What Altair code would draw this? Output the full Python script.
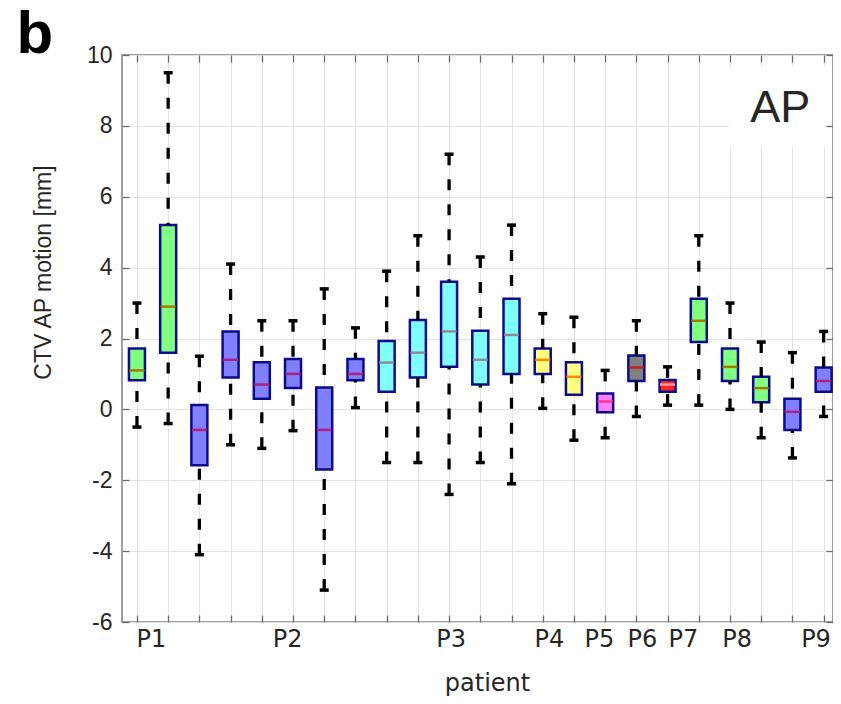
import altair as alt
import pandas as pd

# ---------------- data ----------------
positions = list(range(1, 24))
groups = ["G", "G", "B", "B", "B", "B", "B", "B", "C", "C", "C", "C", "C",
          "Y", "Y", "M", "K", "R", "G", "G", "G", "B", "B"]
whisker_low = [-0.5, -0.4, -4.1, -1.0, -1.1, -0.6, -5.1, 0.05, -1.5, -1.5, -2.4, -1.5,
               -2.1, 0.03, -0.87, -0.8, -0.2, 0.12, 0.12, 0.0, -0.8, -1.37, -0.2]
q1 = [0.82, 1.6, -1.58, 0.9, 0.3, 0.6, -1.7, 0.82, 0.5, 0.9, 1.2, 0.7,
      1.0, 1.0, 0.41, -0.08, 0.8, 0.5, 1.9, 0.8, 0.2, -0.58, 0.5]
median = [1.1, 2.9, -0.58, 1.4, 0.7, 1.0, -0.58, 1.0, 1.32, 1.6, 2.2, 1.4,
          2.1, 1.4, 0.92, 0.22, 1.18, 0.7, 2.5, 1.2, 0.6, -0.07, 0.8]
q3 = [1.72, 5.2, 0.12, 2.2, 1.33, 1.42, 0.62, 1.42, 1.93, 2.52, 3.6, 2.22,
      3.12, 1.72, 1.33, 0.45, 1.52, 0.83, 3.12, 1.72, 0.92, 0.3, 1.18]
whisker_high = [3.0, 9.5, 1.5, 4.1, 2.5, 2.5, 3.4, 2.3, 3.9, 4.9, 7.2, 4.3,
                5.2, 2.7, 2.6, 1.1, 2.5, 1.2, 4.9, 3.0, 1.9, 1.6, 2.2]

patient_labels = ["P1", "P2", "P3", "P4", "P5", "P6", "P7", "P8", "P9"]
patient_label_values = [1.45, 5.81, 11.05, 14.2, 15.8, 17.18, 18.49, 20.21, 22.74]
y_ticks = [-6, -4, -2, 0, 2, 4, 6, 8, 10]

# ---------------- styles ----------------
fill_colors = {"G": "#80ff80", "B": "#8080ff", "C": "#80ffff", "Y": "#ffff80",
               "M": "#ff80ff", "K": "#808080", "R": "#ff2424"}
median_colors = {"G": "#a37a00", "B": "#b0207f", "C": "#8c8c8c", "Y": "#ff8c00",
                 "M": "#ff3399", "K": "#c02020", "R": "#ff9a9a"}
EDGE = "#0b0b8c"
TXT = "#262626"
GRID = "#e3e3e3"
TICK = "#6a6a6a"

df = pd.DataFrame({
    "pos": positions,
    "group": groups,
    "wlo": whisker_low,
    "q1": q1,
    "med": median,
    "q3": q3,
    "whi": whisker_high,
})
df["fillc"] = df["group"].map(fill_colors)
df["medc"] = df["group"].map(median_colors)

whisk = pd.concat([
    pd.DataFrame({"pos": df["pos"], "yend": df["wlo"], "ybox": df["q1"]}),
    pd.DataFrame({"pos": df["pos"], "yend": df["whi"], "ybox": df["q3"]}),
], ignore_index=True)

label_expr = " : ".join(
    f"datum.value == {v} ? '{t}'" for v, t in zip(patient_label_values, patient_labels)
) + " : ''"

x_scale = alt.Scale(domain=[0.521, 23.30], nice=False, zero=False, padding=0)
y_scale = alt.Scale(domain=[-6, 10], nice=False, zero=False, padding=0)


def tick_axis(orient, values, **extra):
    return alt.Axis(orient=orient, values=values, offset=-7, ticks=True, tickSize=7,
                    tickColor=TICK, tickWidth=1.3, labels=False, domain=False,
                    grid=False, zindex=2, **extra)


bars = alt.Chart(df).mark_bar(size=16, stroke=EDGE, strokeWidth=2.5).encode(
    x=alt.X("pos:Q", scale=x_scale,
            axis=alt.Axis(orient="bottom", values=positions, grid=True, gridColor=GRID,
                          gridWidth=1, ticks=False, labels=False, domain=False, title=None)),
    y=alt.Y("q1:Q", scale=y_scale,
            axis=alt.Axis(orient="left", values=y_ticks, grid=True, gridColor=GRID,
                          gridWidth=1, ticks=False, domain=False, labelPadding=10,
                          labelExpr="'' + datum.value",
                          labelFont="Liberation Sans", labelFontSize=23, labelColor=TXT,
                          title="CTV AP motion [mm]", titleFont="Liberation Sans",
                          titleFontSize=23, titleFontWeight="normal", titleColor=TXT,
                          titleAngle=270, titleX=-72, titleY=217, titleAlign="center",
                          titleBaseline="alphabetic")),
    y2="q3:Q",
    fill=alt.Fill("fillc:N", scale=None),
)

rules = alt.Chart(whisk).mark_rule(color="black", strokeWidth=3.3, strokeDash=[11, 14]).encode(
    x=alt.X("pos:Q", scale=x_scale, axis=tick_axis("bottom", positions, title=None)),
    y=alt.Y("yend:Q", scale=y_scale, axis=tick_axis("left", y_ticks, title=None)),
    y2="ybox:Q",
)

# the top tick axis also carries the panel letter "b"
caps = alt.Chart(whisk).mark_tick(orient="horizontal", size=9, thickness=3.5,
                                  color="black", opacity=1).encode(
    x=alt.X("pos:Q", scale=x_scale,
            axis=tick_axis("top", positions, title="b", titleFont="Liberation Sans",
                           titleFontSize=60, titleFontWeight="bold", titleColor="black",
                           titleAngle=0, titleX=-106, titleY=-10, titleAlign="left",
                           titleBaseline="alphabetic")),
    y=alt.Y("yend:Q", scale=y_scale, axis=tick_axis("right", y_ticks, title=None)),
)

medians = alt.Chart(df).mark_tick(orient="horizontal", size=15, thickness=2.5,
                                  opacity=1).encode(
    x=alt.X("pos:Q", scale=x_scale,
            axis=alt.Axis(orient="bottom", values=patient_label_values, labelExpr=label_expr,
                          ticks=False, domain=False, grid=False, labelPadding=5,
                          labelOverlap=False, labelFlush=False,
                          labelFont="DejaVu Sans", labelFontSize=24, labelColor=TXT,
                          title="patient", titleFont="DejaVu Sans", titleFontSize=24,
                          titleFontWeight="normal", titleColor=TXT, titleX=365, titleY=68,
                          titleAlign="center", titleBaseline="alphabetic")),
    y=alt.Y("med:Q", scale=y_scale, axis=None),
    color=alt.Color("medc:N", scale=None),
)

# "AP" text box (top right)
ap_box = pd.DataFrame({"x1": [19.95], "x2": [23.24], "y1": [7.41], "y2": [9.66]})
ap_text = pd.DataFrame({"x": [21.61], "y": [8.11], "t": ["AP"]})

rect = alt.Chart(ap_box).mark_rect(fill="white", stroke=None).encode(
    x=alt.X("x1:Q", scale=x_scale, axis=None), x2="x2:Q",
    y=alt.Y("y1:Q", scale=y_scale, axis=None), y2="y2:Q",
)
text = alt.Chart(ap_text).mark_text(font="Liberation Sans", fontSize=45, color=TXT,
                                    align="center", baseline="alphabetic").encode(
    x=alt.X("x:Q", scale=x_scale, axis=None),
    y=alt.Y("y:Q", scale=y_scale, axis=None),
    text="t:N",
)

chart = alt.layer(bars, rect, rules, caps, medians, text).resolve_axis(
    x="independent", y="independent"
).properties(
    width=711, height=567,
    autosize=alt.AutoSizeParams(type="none"),
    padding={"left": 114, "top": 47, "right": 0, "bottom": 74},
).configure_view(stroke="#7f7f7f", strokeWidth=1.5)

chart.save("out.html", embed_options={"renderer": "svg", "actions": False})
